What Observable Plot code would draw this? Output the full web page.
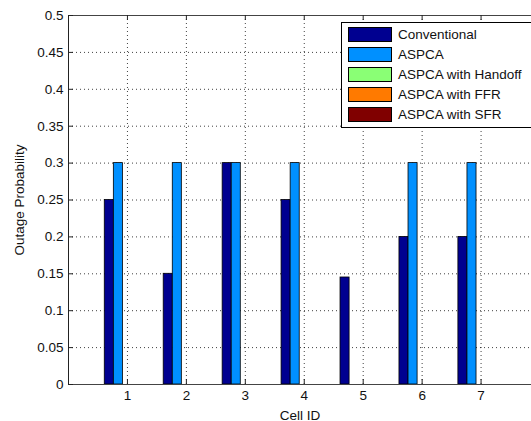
<!DOCTYPE html>
<html><head><meta charset="utf-8">
<script src="https://cdn.jsdelivr.net/npm/d3@7"></script>
<script src="https://cdn.jsdelivr.net/npm/@observablehq/plot@0.6"></script>
<style>
body{margin:0;background:#fff;}
#wrap{position:relative;width:531px;height:421px;overflow:hidden;font-family:"Liberation Sans",Arial,sans-serif;}
#legend{position:absolute;left:341px;top:22px;width:200px;height:106px;border:1px solid #000;background:#fff;box-sizing:border-box;}
.row{position:absolute;left:6px;height:15px;display:flex;align-items:center;white-space:nowrap;}
.sw{width:44px;height:15px;border:1px solid #000;box-sizing:border-box;flex:none;}
.lab{margin-left:6px;font-size:13.5px;color:#111;}
</style></head><body><div id="wrap"></div>
<script>
const cells = [1, 2, 3, 4, 5, 6, 7];
const series = ["Conventional", "ASPCA", "ASPCA with Handoff", "ASPCA with FFR", "ASPCA with SFR"];
const conventional = [0.25, 0.15, 0.3, 0.25, 0.145, 0.2, 0.2];
const aspca = [0.3, 0.3, 0.3, 0.3, 0, 0.3, 0.3];
const handoff = [0, 0, 0, 0, 0, 0, 0];
const ffr = [0, 0, 0, 0, 0, 0, 0];
const sfr = [0, 0, 0, 0, 0, 0, 0];
const colors = ["#000090", "#0090FF", "#8AFF75", "#FF7A00", "#800000"];
const yTicks = [0, 0.05, 0.1, 0.15, 0.2, 0.25, 0.3, 0.35, 0.4, 0.45, 0.5];
const yTickLabels = ["0", "0.05", "0.1", "0.15", "0.2", "0.25", "0.3", "0.35", "0.4", "0.45", "0.5"];
const xTicks = cells;

const values = [conventional, aspca, handoff, ffr, sfr];
const n = series.length;
const groupWidth = Math.min(0.8, n / (n + 1.5));
const slot = groupWidth / n;
const table = [];
series.forEach((s, i) => {
  cells.forEach((c, j) => {
    const center = c + (i - (n - 1) / 2) * slot;
    table.push({series: s, cell: c, value: values[i][j], x1: center - slot / 2, x2: center + slot / 2});
  });
});

const W = 531, H = 421, mL = 68, mT = 15, mB = 37, mR = 0;
const plotH = H - mT - mB, plotW = W - mL - mR;
const tick = 5;
const dots = {stroke: "#000", strokeOpacity: 0.75, strokeDasharray: "1,3", strokeWidth: 1};

const chart = Plot.plot({
  width: W, height: H,
  marginLeft: mL, marginTop: mT, marginBottom: mB, marginRight: mR,
  style: {fontSize: "13.5px", fontFamily: "'Liberation Sans', Arial, sans-serif", color: "#111", background: "#fff"},
  x: {type: "linear", domain: [0, 8], range: [mL, 539.5]},
  y: {domain: [0, 0.5]},
  color: {domain: series, range: colors},
  marks: [
    Plot.ruleX(xTicks, {x: d => d, ...dots}),
    Plot.ruleY(yTicks.slice(1, -1), {y: d => d, ...dots}),
    Plot.rect(table, {x1: "x1", x2: "x2", y1: 0, y2: "value", fill: "series", stroke: "#000", strokeWidth: 0.8}),
    Plot.ruleX([0], {stroke: "#222"}),
    Plot.ruleY([0, 0.5], {stroke: "#444"}),
    Plot.tickX(xTicks, {x: d => d, insetTop: plotH - tick, stroke: "#222"}),
    Plot.tickX(xTicks, {x: d => d, insetBottom: plotH - tick, stroke: "#222"}),
    Plot.tickY(yTicks, {y: d => d, insetRight: plotW - tick, stroke: "#222"}),
    Plot.axisX({ticks: xTicks, tickSize: 0, tickPadding: 6, tickFormat: d => String(d), label: "Cell ID", labelAnchor: "center", labelArrow: "none", labelOffset: 35}),
    Plot.axisY({ticks: yTicks, tickSize: 0, tickPadding: 5, tickFormat: (d, i) => yTickLabels[i], label: "Outage Probability", labelAnchor: "center", labelArrow: "none", labelOffset: 54})
  ]
});
const wrap = document.getElementById("wrap");
wrap.appendChild(chart);

const legend = document.createElement("div");
legend.id = "legend";
series.forEach((s, i) => {
  const row = document.createElement("div");
  row.className = "row";
  row.style.top = (4 + i * 20) + "px";
  const sw = document.createElement("div");
  sw.className = "sw";
  sw.style.background = colors[i];
  const lab = document.createElement("span");
  lab.className = "lab";
  lab.textContent = s;
  row.appendChild(sw); row.appendChild(lab);
  legend.appendChild(row);
});
wrap.appendChild(legend);
</script></body></html>
